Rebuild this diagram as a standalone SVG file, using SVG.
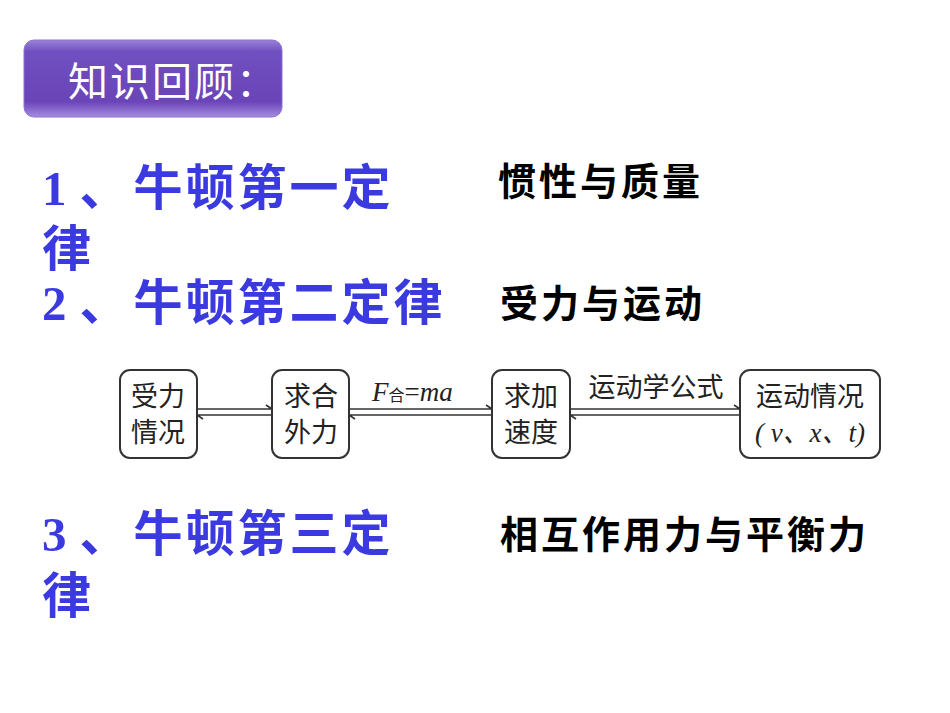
<svg xmlns="http://www.w3.org/2000/svg" width="950" height="713" viewBox="0 0 950 713">
<defs>
<linearGradient id="g" x1="0" y1="0" x2="0" y2="1">
<stop offset="0" stop-color="#9a82d8"/><stop offset="0.15" stop-color="#7050c0"/><stop offset="0.8" stop-color="#6a44b8"/><stop offset="1" stop-color="#a58ce0"/>
</linearGradient>
<style>
.h{font-family:"Liberation Serif","Noto Sans CJK SC",serif;font-weight:bold;font-size:49px;fill:#3a3ae0;letter-spacing:3px}
.s{font-family:"Liberation Sans","Noto Sans CJK SC",sans-serif;font-weight:bold;font-size:38px;fill:#000;letter-spacing:3px}
.b{fill:#fff;stroke:#333;stroke-width:2}
.t{font-family:"Liberation Serif","Noto Sans CJK SC",serif;font-size:27px;fill:#222;text-anchor:middle}
.l{stroke:#333;stroke-width:1.6;fill:none}
</style>
</defs>
<g id="title">
<rect x="24" y="40" width="258" height="77" rx="10" fill="url(#g)" stroke="#8a72d0"/>
<text x="68" y="96" font-family="Noto Sans CJK SC,sans-serif" font-size="40" fill="#fff" letter-spacing="2">知识回顾：</text>
</g>
<g id="law1"><text class="h" x="42" y="205">1<tspan dx="10">、</tspan><tspan dx="2">牛顿第一定</tspan></text><text class="h" x="42" y="266">律</text><text class="s" x="498" y="195">惯性与质量</text></g>
<g id="law2"><text class="h" x="42" y="320">2<tspan dx="10">、</tspan><tspan dx="2">牛顿第二定律</tspan></text><text class="s" x="500" y="317">受力与运动</text></g>
<g id="law3"><text class="h" x="42" y="551">3<tspan dx="10">、</tspan><tspan dx="2">牛顿第三定</tspan></text><text class="h" x="42" y="613">律</text><text class="s" x="500" y="548">相互作用力与平衡力</text></g>
<g id="n1"><rect class="b" x="120" y="370" width="77" height="88" rx="10"/><text class="t" x="158" y="406">受力</text><text class="t" x="158" y="442">情况</text></g>
<g id="n2"><rect class="b" x="272" y="370" width="77" height="88" rx="10"/><text class="t" x="311" y="406">求合</text><text class="t" x="311" y="442">外力</text></g>
<g id="n3"><rect class="b" x="492" y="370" width="78" height="88" rx="10"/><text class="t" x="531" y="406">求加</text><text class="t" x="531" y="442">速度</text></g>
<g id="n4"><rect class="b" x="740" y="370" width="140" height="88" rx="10"/><text class="t" x="810" y="406">运动情况</text><text class="t" x="810" y="442" font-style="italic">( v、x、t)</text></g>
<g id="connectors">
<path class="l" d="M197 409H272M266 405L272 409M197 415H272M197 415L203 419"/>
<path class="l" d="M349 409H492M486 405L492 409M349 415H492M349 415L355 419"/>
<path class="l" d="M570 409H740M734 405L740 409M570 415H740M570 415L576 419"/>
<text x="372" y="401" font-family="Liberation Serif,serif" font-style="italic" font-size="27" fill="#222">F<tspan font-style="normal" font-size="16" font-family="Noto Sans CJK SC,sans-serif">合</tspan><tspan font-style="normal">=</tspan>ma</text>
<text x="656" y="397" class="t">运动学公式</text>
</g>
</svg>
